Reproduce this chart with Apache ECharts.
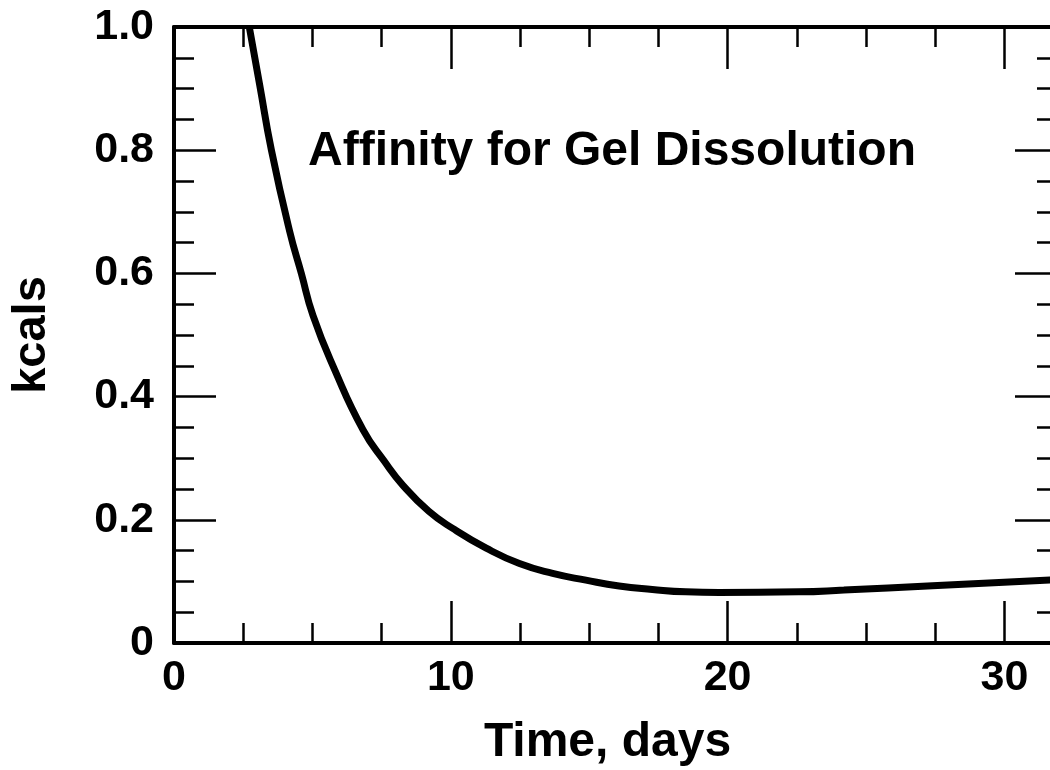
<!DOCTYPE html>
<html>
<head>
<meta charset="utf-8">
<script src="https://cdn.jsdelivr.net/npm/echarts@6/dist/echarts.min.js"></script>
<style>
  html, body { margin: 0; padding: 0; background: #fff; }
  #main { width: 1050px; height: 770px; }
</style>
</head>
<body>
<div id="main"></div>
<script>
// values
var days = [2.72, 3.1, 3.52, 4.18, 4.6, 5.02, 5.81, 6.83, 7.6, 8.27, 9.2, 10.07, 11.28, 12.48, 13.68, 14.88, 16.08, 17.28, 18.49, 19.69, 22.57, 24.2, 27.4, 31.9];
var kcals = [1.0, 0.905, 0.80, 0.668, 0.60, 0.532, 0.443, 0.346, 0.295, 0.256, 0.214, 0.186, 0.154, 0.129, 0.113, 0.102, 0.0925, 0.087, 0.083, 0.082, 0.083, 0.086, 0.093, 0.103];
var xTicks = [0, 10, 20, 30];
var yTicks = [0, 0.2, 0.4, 0.6, 0.8, 1.0];
var noteText = 'Affinity for Gel Dissolution';

var FONT = '"Liberation Sans", Arial, Helvetica, sans-serif';

var chart = echarts.init(document.getElementById('main'));

var points = days.map(function (d, i) { return [d, kcals[i]]; });

var axisLine = { show: true, onZero: false, lineStyle: { color: '#000', width: 4 } };
var majorTick = { show: true, inside: true, length: 42, lineStyle: { color: '#000', width: 2.5 } };
var minorTick = { show: true, splitNumber: 4, length: 20, lineStyle: { color: '#000', width: 2.5 } };

var option = {
    backgroundColor: '#fff',
    animation: false,
    // plot box runs a few pixels past the right edge of the page, as in the scan
    grid: { left: 174, top: 27, width: 883, height: 616, outerBoundsMode: 'none', containLabel: false },
    xAxis: [
        {
            type: 'value', position: 'bottom', min: 0, max: 31.9, interval: 10,
            axisLine: axisLine, axisTick: majorTick, minorTick: minorTick,
            splitLine: { show: false },
            axisLabel: {
                color: '#000', fontFamily: FONT, fontWeight: 'bold', fontSize: 43, margin: 14,
                showMaxLabel: false,
                formatter: function (v) { return xTicks.indexOf(v) >= 0 ? String(v) : ''; }
            },
            name: 'Time, days', nameLocation: 'middle', nameGap: 76,
            nameTextStyle: { color: '#000', fontFamily: FONT, fontWeight: 'bold', fontSize: 48, padding: [0, 16, 0, 0] }
        },
        {
            type: 'value', position: 'top', min: 0, max: 31.9, interval: 10,
            axisLine: axisLine, axisTick: majorTick, minorTick: minorTick,
            splitLine: { show: false }, axisLabel: { show: false }
        }
    ],
    yAxis: [
        {
            type: 'value', position: 'left', min: 0, max: 1, interval: 0.2,
            axisLine: axisLine, axisTick: majorTick, minorTick: minorTick,
            splitLine: { show: false },
            axisLabel: {
                color: '#000', fontFamily: FONT, fontWeight: 'bold', fontSize: 43, margin: 20,
                formatter: function (v) {
                    var t = yTicks.filter(function (y) { return Math.abs(y - v) < 1e-6; })[0];
                    if (t === undefined) return '';
                    return t === 0 ? '0' : t.toFixed(1);
                }
            },
            name: 'kcals', nameLocation: 'middle', nameGap: 118,
            nameTextStyle: { color: '#000', fontFamily: FONT, fontWeight: 'bold', fontSize: 47 }
        },
        {
            type: 'value', position: 'right', min: 0, max: 1, interval: 0.2,
            axisLine: axisLine, axisTick: majorTick, minorTick: minorTick,
            splitLine: { show: false }, axisLabel: { show: false }
        }
    ],
    graphic: [
        {
            type: 'text', left: 308, top: 128,
            style: { text: noteText, fill: '#000', font: 'bold 48px ' + FONT }
        }
    ],
    series: [
        {
            type: 'line',
            data: points,
            showSymbol: false,
            smooth: 0.5,
            clip: true,
            lineStyle: { color: '#000', width: 7 }
        }
    ]
};

chart.setOption(option);
</script>
</body>
</html>
